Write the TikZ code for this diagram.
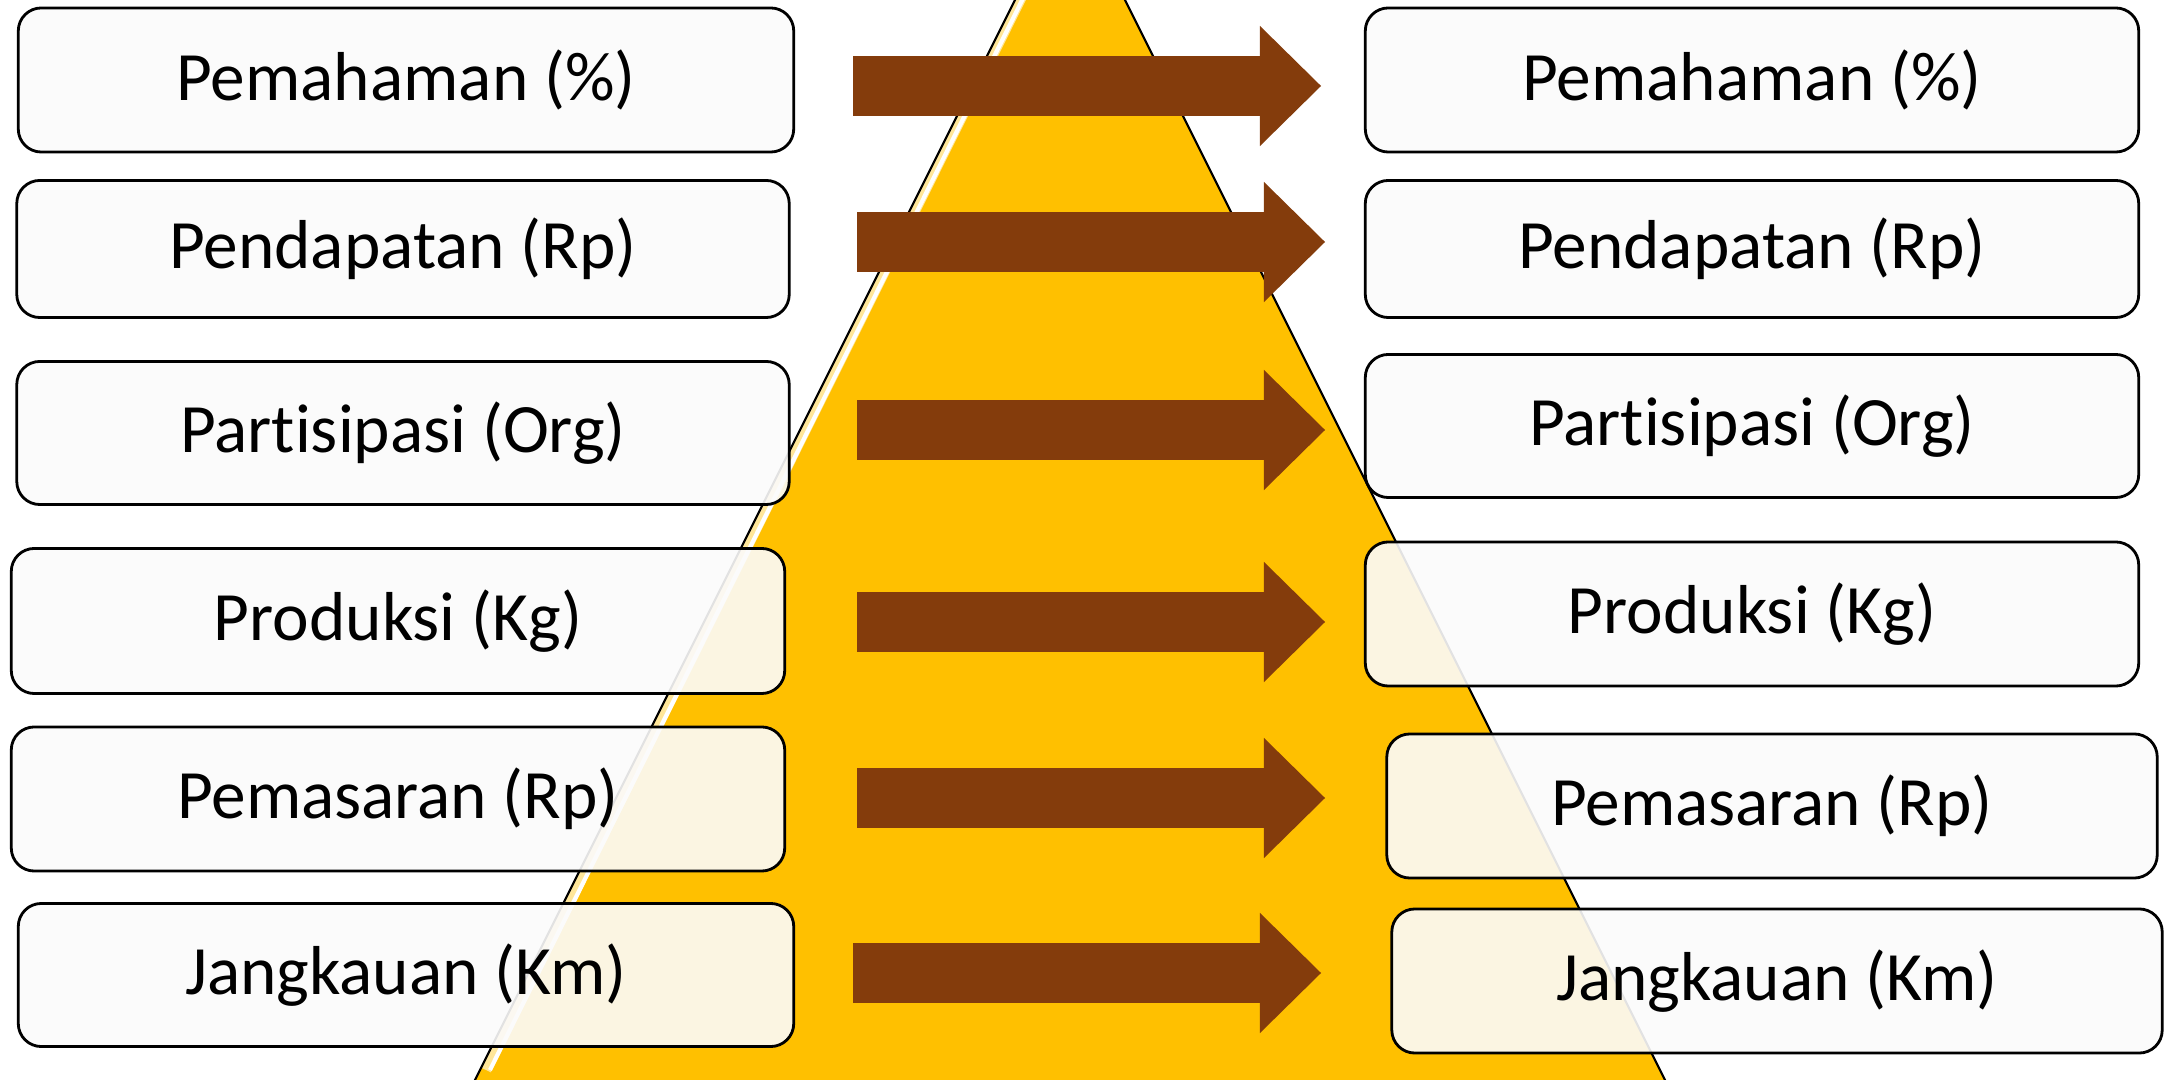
\documentclass[tikz,border=0pt]{standalone}
\usepackage{fontspec}
\setmainfont{Carlito}[Ligatures=NoCommon]
\usetikzlibrary{arrows.meta}
\definecolor{pyrgold}{HTML}{FFC000}
\definecolor{pyrlight}{HTML}{FFE699}
\definecolor{arrbrown}{HTML}{843C0C}
\definecolor{cardfill}{HTML}{FBFBFB}

\begin{document}
\begin{tikzpicture}[x=0.01cm, y=-0.01cm,
    card/.style={draw=black, line width=0.8pt, fill=cardfill, fill opacity=0.9,
      text opacity=1, rounded corners=0.23cm, minimum width=7.73cm,
      minimum height=1.44cm, inner sep=0pt, font=\fontsize{19.7}{24}\selectfont},
    flow/.style={arrbrown, line width=0.59cm,
      -{Triangle[width=1.2cm, length=0.61cm, line width=0pt]}}]
  \clip (0,0) rectangle (2164,1080);

  % pyramid behind the cards
  \fill[pyrgold] (1070,-110) -- (470,1090) -- (1670,1090) -- cycle;
  \draw[pyrlight, line width=3pt] (1060,-80) -- (486,1070);
  \draw[white, line width=1.2pt] (1062,-80) -- (490,1070);
  \draw[line width=0.6pt] (470,1090) -- (1070,-110) -- (1670,1090);

  % left column
  \node[card, minimum width=7.75cm] (l1) at (406,80) {Pemahaman (\%)};
  \node[card, minimum width=7.72cm, minimum height=1.37cm] (l2) at (403,249) {Pendapatan (Rp)};
  \node[card, minimum width=7.72cm, minimum height=1.43cm] (l3) at (403,433) {Partisipasi (Org)};
  \node[card, minimum height=1.45cm] (l4) at (398,621) {Produksi (Kg)};
  \node[card] (l5) at (398,799) {Pemasaran (Rp)};
  \node[card, minimum width=7.75cm, minimum height=1.43cm] (l6) at (406,975) {Jangkauan (Km)};

  % right column
  \node[card] (r1) at (1752,80) {Pemahaman (\%)};
  \node[card, minimum height=1.37cm] (r2) at (1752,249) {Pendapatan (Rp)};
  \node[card, minimum height=1.43cm] (r3) at (1752,426) {Partisipasi (Org)};
  \node[card] (r4) at (1752,614) {Produksi (Kg)};
  \node[card, minimum width=7.70cm] (r5) at (1772,806) {Pemasaran (Rp)};
  \node[card, minimum width=7.70cm] (r6) at (1777,981) {Jangkauan (Km)};

  % block arrows
  \foreach \i/\ya/\xa in {1/86/853, 2/242/857, 3/430/857, 4/622/857, 5/798/857, 6/973/853} {
    \coordinate (a\i) at (\xa,\ya);
    \coordinate (b\i) at (\xa+468,\ya);
    \draw[flow] (a\i) -- (b\i);
  }
\end{tikzpicture}
\end{document}
